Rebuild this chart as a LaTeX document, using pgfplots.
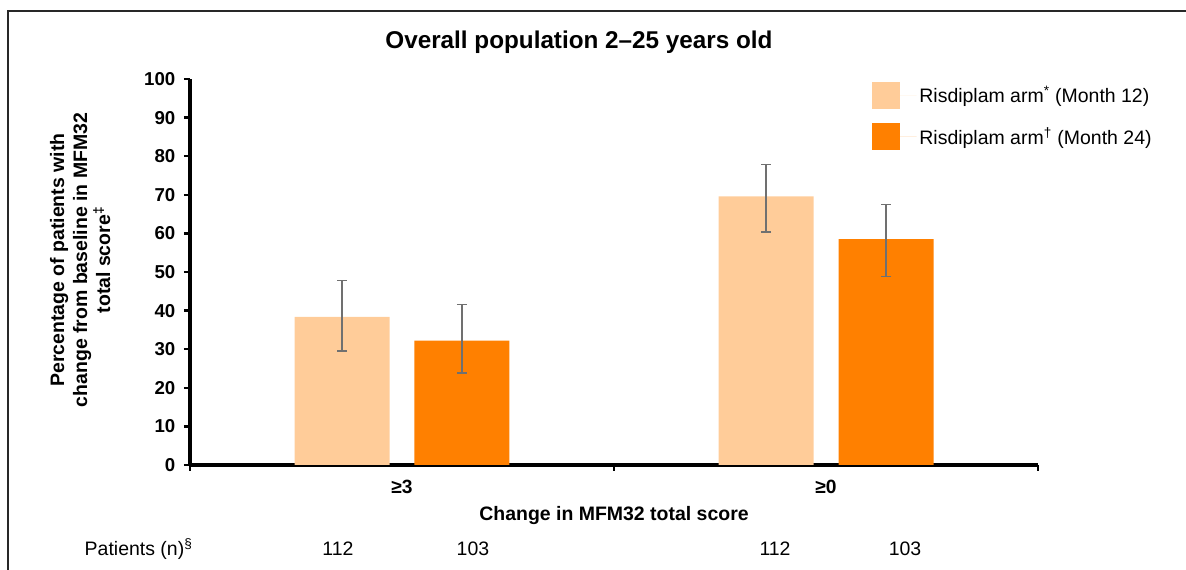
\documentclass[border=0pt]{standalone}
\usepackage{pgfplots}
\pgfplotsset{compat=1.18}
\usepackage{pgfplotstable}
\usepackage{fontspec}
\setmainfont{Liberation Sans}

\definecolor{lightorange}{RGB}{255,204,153}
\definecolor{darkorange}{RGB}{255,128,0}
\definecolor{errgray}{RGB}{112,112,112}
\definecolor{framegray}{RGB}{40,40,40}

% share of patients (%) with the 95% CI as plus/minus distances
\pgfplotstableread{
x y ep em
0 38.4 9.4 8.9
1 69.6 8.2 9.2
}\monthtwelve
\pgfplotstableread{
x y ep em
0 32.2 9.4 8.4
1 58.5 9.0 9.6
}\monthtwentyfour

\newcommand{\txt}{\fontsize{14.6}{17.3}\selectfont}
\newcommand{\btxt}{\fontsize{14.6}{17.3}\selectfont\bfseries}

\begin{document}
\begin{tikzpicture}[x=0.75pt,y=0.75pt]
\useasboundingbox (0,0) rectangle (1186,570);
\draw[framegray, line width=1.5pt] (8,0) -- (8,559) -- (1186,559);
\begin{axis}[
  at={(142.5pt,78.75pt)}, anchor=south west,
  scale only axis, width=636pt, height=289.5pt,
  xmin=-0.5, xmax=1.5, ymin=0, ymax=100,
  axis x line*=bottom, axis y line*=left,
  axis line style={line width=2.3pt, black},
  every outer x axis line/.append style={line width=2.3pt},
  tick style={black, line width=1.8pt},
  tick align=outside, major tick length=4.5pt,
  ytick={0,10,...,100},
  yticklabels={0,10,20,30,40,50,60,70,80,90,100},
  yticklabel style={font=\fontsize{14}{16}\selectfont\bfseries, xshift=-3pt},
  xtick={-0.5,0.5,1.5}, xticklabels={},
  extra x ticks={0,1},
  extra x tick labels={≥3,≥0},
  extra x tick style={major tick length=0pt,
    xticklabel style={font=\fontsize{14.4}{16}\selectfont\bfseries, yshift=-8pt}},
  title={Overall population 2–25 years old},
  title style={font=\fontsize{18.2}{21}\selectfont\bfseries,
    at={(axis description cs:0.4587,1.075)}, anchor=center},
  xlabel={Change in MFM32 total score},
  xlabel style={font=\btxt, at={(axis description cs:0.5,-0.132)}, anchor=center},
  ylabel={Percentage of patients with\\change from baseline in MFM32\\total score\textsuperscript{\ddag}},
  ylabel style={font=\btxt, align=center,
    at={(axis description cs:-0.1295,0.531)}, anchor=center},
  legend style={at={(axis description cs:0.7993,1.0)}, anchor=north west,
    draw=none, fill=none, font=\txt, row sep=11pt},
  legend cell align=left,
  clip=false,
]
% heavier vertical axis line
\draw[black, line width=2.9pt] (axis description cs:0,0) -- (axis description cs:0,1);

\addplot[ybar, bar width=71.25pt, bar shift=0pt, fill=lightorange, draw=none,
  error bars/.cd, y dir=both, y explicit,
  error bar style={errgray, line width=1.1pt},
  error mark options={rotate=90, mark size=3.75pt, errgray, line width=1.1pt},
  /pgfplots/.cd,
  legend image code/.code={\fill[lightorange] (0pt,-10pt) rectangle (21pt,10pt);
    \path (0pt,0pt) -- (33.5pt,0pt);}]
  table[x expr=\thisrow{x}-0.1415, y=y, y error plus=ep, y error minus=em] {\monthtwelve};
\addlegendentry{Risdiplam arm\textsuperscript{*} (Month 12)}
\addplot[ybar, bar width=71.25pt, bar shift=0pt, fill=darkorange, draw=none,
  error bars/.cd, y dir=both, y explicit,
  error bar style={errgray, line width=1.1pt},
  error mark options={rotate=90, mark size=3.75pt, errgray, line width=1.1pt},
  /pgfplots/.cd,
  legend image code/.code={\fill[darkorange] (0pt,-10pt) rectangle (21pt,10pt);
    \path (0pt,0pt) -- (33.5pt,0pt);}]
  table[x expr=\thisrow{x}+0.1415, y=y, y error plus=ep, y error minus=em] {\monthtwentyfour};
\addlegendentry{Risdiplam arm\textsuperscript{\dag} (Month 24)}

% number of patients per bar
\node[font=\txt, anchor=west] at (axis description cs:-0.1297,-0.2176) {Patients (n)\textsuperscript{\S}};
\node[font=\txt] at (axis description cs:0.1745,-0.2176) {112};
\node[font=\txt] at (axis description cs:0.3337,-0.2176) {103};
\node[font=\txt] at (axis description cs:0.6899,-0.2176) {112};
\node[font=\txt] at (axis description cs:0.8432,-0.2176) {103};
\end{axis}
\end{tikzpicture}
\end{document}
